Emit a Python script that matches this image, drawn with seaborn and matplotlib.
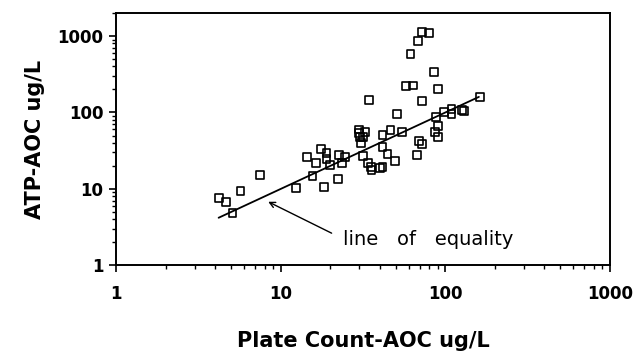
import numpy as np
import pandas as pd
import matplotlib
matplotlib.use('Agg')
import matplotlib.pyplot as plt
import seaborn as sns

# plate count AOC (x) vs ATP AOC (y)
plate_count = [4.2, 4.65, 5.1, 5.7, 7.5, 12.4, 14.5, 15.6, 16.3, 17.5,
               18.4, 19.0, 19.0, 19.9, 22.3, 22.6, 23.5, 24.6, 30.0, 30.0,
               30.3, 30.6, 31.5, 32.5, 31.5, 34.5, 33.8, 35.3, 35.6, 40.1,
               41.6, 41.6, 46.5, 41.6, 44.6, 49.4, 51.0, 54.3, 61.5, 57.4,
               63.8, 68.5, 72.4, 79.8, 72.4, 69.5, 71.8, 67.0, 85.7, 90.6,
               87.7, 90.6, 86.5, 90.6, 98.5, 109, 109, 127, 130, 162]
atp_aoc = [7.6, 6.8, 4.9, 9.4, 15.2, 10.4, 26.0, 14.9, 21.7, 33.0,
           10.7, 29.3, 24.7, 20.6, 13.5, 27.6, 22.1, 26.4, 60.0, 54.5,
           47.4, 39.6, 48.3, 56.0, 27.2, 146, 21.7, 19.6, 17.7, 18.6,
           19.6, 50.8, 59.0, 35.7, 28.7, 23.2, 94.7, 56.0, 582, 222,
           225, 868, 1137, 1084, 143, 42.4, 38.7, 27.8, 335, 205,
           86.5, 66.6, 56.0, 47.4, 100.7, 111, 94.7, 108, 104, 161]

equality_x = [4.2, 160]
equality_y = [4.2, 160]

df = pd.DataFrame({'plate': plate_count, 'atp': atp_aoc})
line = pd.DataFrame({'x': equality_x, 'y': equality_y})

sns.set_style('ticks', {'axes.edgecolor': 'black', 'text.color': 'black',
                        'axes.labelcolor': 'black', 'xtick.color': 'black',
                        'ytick.color': 'black'})
plt.rcParams['font.family'] = ['DejaVu Sans']

fig = plt.figure(figsize=(6.34, 3.52), dpi=100)
ax = fig.add_axes([0.183, 0.246, 0.779, 0.717])

sns.lineplot(data=line, x='x', y='y', color='black', linewidth=1.3, ax=ax)
sns.scatterplot(data=df, x='plate', y='atp', marker='s', s=32,
                facecolor='none', edgecolor='black', linewidth=1.2, ax=ax)

ax.set_xscale('log')
ax.set_yscale('log')
ax.set_xlim(1, 1000)
ax.set_ylim(1, 2000)
ax.set_xticks([1, 10, 100, 1000])
ax.set_xticklabels(['1', '10', '100', '1000'])
ax.set_yticks([1, 10, 100, 1000])
ax.set_yticklabels(['1', '10', '100', '1000'])

for lab in ax.get_xticklabels() + ax.get_yticklabels():
    lab.set_fontweight('bold')
    lab.set_fontsize(12)
    lab.set_color('black')

ax.tick_params(which='major', direction='out', length=5, width=1.2, pad=4, colors='black')
ax.tick_params(which='minor', direction='out', length=3, width=1.0, colors='black')
ax.tick_params(axis='x', which='major', pad=9)
for sp in ax.spines.values():
    sp.set_linewidth(1.4)
    sp.set_color('black')
    sp.set_visible(True)

ax.set_xlabel('Plate Count-AOC ug/L', fontsize=15, fontweight='bold', labelpad=20, color='black')
ax.set_ylabel('ATP-AOC ug/L', fontsize=15, fontweight='bold', labelpad=9, color='black')

# arrow and label for the equality line
ax.annotate('', xy=(8.4, 6.8), xytext=(20.4, 2.64),
            arrowprops=dict(arrowstyle='->', color='black', lw=1.0,
                            shrinkA=0, shrinkB=0))
ax.text(23.9, 2.15, 'line   of   equality', fontsize=14, va='center', ha='left',
        color='black')

fig.savefig('out.png', dpi=100)
